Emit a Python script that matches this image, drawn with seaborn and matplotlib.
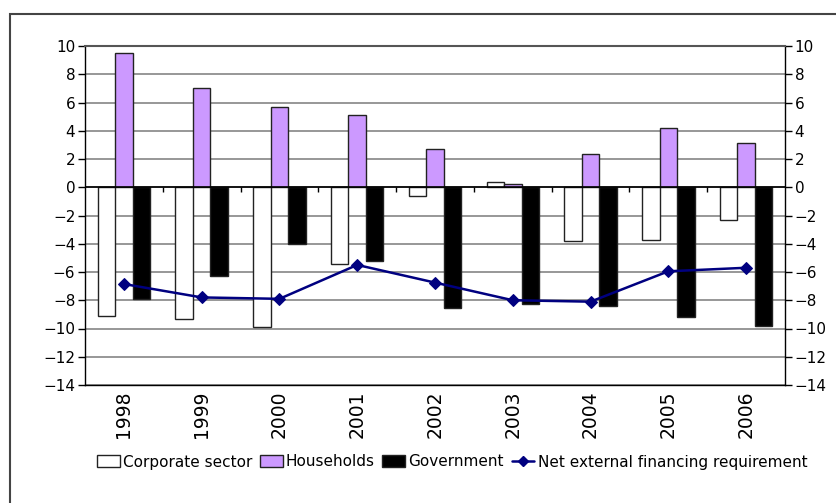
import numpy as np
import pandas as pd
import matplotlib
matplotlib.use("Agg")
import matplotlib.pyplot as plt
import seaborn as sns
from matplotlib.patches import Rectangle, Patch
from matplotlib.lines import Line2D

# Financing balances by sector, % of GDP
years = ["1998", "1999", "2000", "2001", "2002", "2003", "2004", "2005", "2006"]
corporate = [-9.1, -9.3, -9.9, -5.4, -0.6, 0.4, -3.8, -3.7, -2.3]
households = [9.5, 7.0, 5.7, 5.15, 2.7, 0.2, 2.35, 4.2, 3.1]
government = [-7.9, -6.3, -4.0, -5.2, -8.55, -8.3, -8.4, -9.2, -9.8]
net_financing = [-6.85, -7.8, -7.9, -5.5, -6.75, -8.0, -8.1, -5.95, -5.7]

sector_names = ["Corporate sector", "Households", "Government"]
sector_colors = ["#FFFFFF", "#CC99FF", "#000000"]
line_name = "Net external financing requirement"
y_ticks = list(range(-14, 11, 2))

sns.set_theme(style="white")
plt.rcParams["font.family"] = ["DejaVu Sans"]
plt.rcParams["text.color"] = "black"
plt.rcParams["xtick.color"] = "black"
plt.rcParams["ytick.color"] = "black"
FS = 11

df = pd.DataFrame({
    "year": years * 3,
    "value": corporate + households + government,
    "sector": np.repeat(sector_names, len(years)),
})

fig = plt.figure(figsize=(8.37, 5.03), dpi=100)
ax = fig.add_axes([85 / 837, 1 - 385 / 503, 700 / 837, 339 / 503])

sns.barplot(data=df, x="year", y="value", hue="sector", hue_order=sector_names,
            order=years, palette=sector_colors, saturation=1, width=0.675,
            edgecolor="#222222", linewidth=1.0, legend=False, ax=ax, zorder=2)

sns.lineplot(x=np.arange(len(years)), y=net_financing, ax=ax, color="#000080",
             marker="D", markersize=6, markeredgecolor="#000080", linewidth=1.8,
             legend=False, zorder=4)

ax.set_xlim(-0.5, len(years) - 0.5)
ax.set_ylim(-14, 10)
ax.set_yticks(y_ticks)
ax.set_xticks(np.arange(len(years)))
ax.set_xticklabels(years, rotation=90, fontsize=13.5, color="black")
ax.set_xlabel("")
ax.set_ylabel("")

ax.set_axisbelow(True)
ax.yaxis.grid(True, color="#8f8f8f", linewidth=1.3)
ax.axhline(0, color="black", linewidth=1.2, zorder=3)
# category separators on the zero line
ax.vlines(np.arange(len(years) - 1) + 0.5, -0.35, 0, color="black",
          linewidth=1, zorder=3)

ax.tick_params(axis="y", which="both", left=True, right=True, labelleft=True,
               labelright=True, direction="out", length=5, width=1,
               color="black", labelcolor="black", labelsize=FS, pad=2)
ax.tick_params(axis="x", length=0, pad=4, labelcolor="black")

for side in ["left", "right", "bottom"]:
    ax.spines[side].set_color("black")
    ax.spines[side].set_linewidth(1)
ax.spines["top"].set_color("#555555")
ax.spines["top"].set_linewidth(1.5)

# outer frame of the chart area
fig.patches.append(Rectangle((9.5 / 837, -0.2), 1.2, 1.2 - 14 / 503,
                             transform=fig.transFigure, fill=False,
                             edgecolor="#444444", linewidth=1.5))

handles = [Patch(facecolor=c, edgecolor="#222222", linewidth=1) for c in sector_colors]
handles.append(Line2D([], [], color="#000080", marker="D", markersize=5, linewidth=1.8))
fig.legend(handles, sector_names + [line_name], loc="center",
           bbox_to_anchor=(452 / 837, 1 - 462 / 503), ncol=4, frameon=False,
           fontsize=FS, handlelength=1.5, handleheight=0.8, handletextpad=0.2,
           columnspacing=0.5, borderpad=0, labelcolor="black")

fig.savefig("out.png", dpi=100)
